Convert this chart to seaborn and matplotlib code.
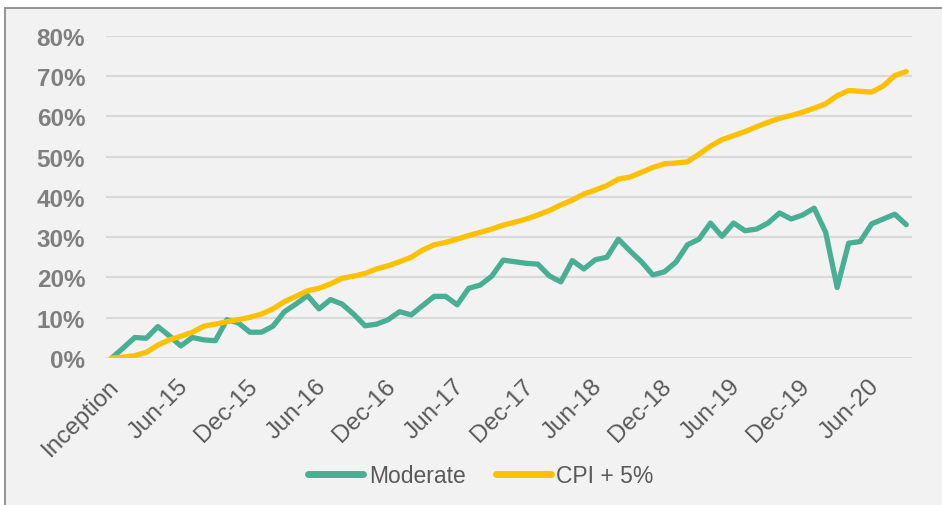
import numpy as np
import pandas as pd
import matplotlib
matplotlib.use("Agg")
import matplotlib.pyplot as plt
import matplotlib.transforms as mtransforms
from matplotlib.patches import Rectangle
from matplotlib.lines import Line2D
import seaborn as sns

# ---- data (cumulative return, %) monthly from inception (Dec-14) to Sep-20 ----
moderate = [0.0, 2.5, 5.1, 4.9, 7.8, 5.5, 3.0, 5.1, 4.5, 4.3,
            9.5, 8.7, 6.4, 6.4, 7.9, 11.5, 13.4, 15.5, 12.2, 14.5,
            13.4, 10.9, 8.0, 8.4, 9.5, 11.5, 10.7, 13.0, 15.3, 15.3,
            13.2, 17.3, 18.1, 20.3, 24.3, 23.9, 23.5, 23.3, 20.4, 18.9,
            24.2, 22.1, 24.4, 25.0, 29.5, 26.6, 23.9, 20.6, 21.4, 23.8,
            28.1, 29.5, 33.5, 30.2, 33.5, 31.6, 32.0, 33.5, 36.0, 34.5,
            35.5, 37.2, 31.2, 17.5, 28.5, 28.9, 33.3, 34.5, 35.7, 33.1]
cpi_plus5 = [0.0, 0.2, 0.6, 1.4, 3.2, 4.5, 5.4, 6.4, 7.9, 8.4,
             9.0, 9.5, 10.1, 10.9, 12.2, 14.0, 15.3, 16.7, 17.3, 18.4,
             19.8, 20.3, 21.0, 22.1, 22.9, 23.9, 25.0, 26.8, 28.1, 28.7,
             29.5, 30.4, 31.2, 32.0, 33.0, 33.7, 34.5, 35.5, 36.6, 38.0,
             39.2, 40.7, 41.7, 42.8, 44.4, 44.9, 46.1, 47.3, 48.2, 48.4,
             48.7, 50.6, 52.6, 54.2, 55.2, 56.2, 57.4, 58.5, 59.5, 60.2,
             61.0, 62.0, 63.1, 65.1, 66.4, 66.2, 66.0, 67.5, 70.1, 71.1]
tick_labels = ["Inception", "Jun-15", "Dec-15", "Jun-16", "Dec-16", "Jun-17",
               "Dec-17", "Jun-18", "Dec-18", "Jun-19", "Dec-19", "Jun-20"]
y_ticks = [0, 10, 20, 30, 40, 50, 60, 70, 80]
series_names = ["Moderate", "CPI + 5%"]

GREEN = "#49AF92"
GOLD = "#FFC000"

n = len(moderate)
months = np.arange(n)
df = pd.DataFrame({
    "month": np.concatenate([months, months]),
    "value": moderate + cpi_plus5,
    "series": [series_names[0]] * n + [series_names[1]] * n,
})

sns.set_theme(style="white")
plt.rcParams["font.family"] = ["Liberation Sans", "DejaVu Sans"]

W, H = 942, 506
fig = plt.figure(figsize=(W / 100, H / 100), dpi=100, facecolor="white")

# chart-area background with grey border (cropped on right and bottom)
fig.patches.append(Rectangle((5 / W, -0.02), 1.05, 1 - 9 / H + 0.02,
                             transform=fig.transFigure, facecolor="#F2F2F2",
                             edgecolor="#8C8C8C", linewidth=1.3, zorder=-5))

ax = fig.add_axes([106 / W, (H - 359) / H, (912 - 106) / W, (359 - 36.7) / H])
ax.set_zorder(2)
ax.set_facecolor("none")

sns.lineplot(data=df, x="month", y="value", hue="series",
             palette={series_names[0]: GREEN, series_names[1]: GOLD},
             hue_order=series_names, linewidth=3.8, ax=ax, legend=False,
             solid_capstyle="round", solid_joinstyle="round")
# gold line above green
for line, z in zip(ax.get_lines(), [3, 4]):
    line.set_zorder(z)

ax.set_xlim(-0.5, n - 0.5)
ax.set_ylim(0, 80)
ax.set_yticks(y_ticks)
ax.set_yticklabels([f"{v}%" for v in y_ticks], fontsize=17.5,
                   fontweight="bold", color="#7F7F7F")
ax.set_xticks(months[::6][:len(tick_labels)])
ax.set_xticklabels(tick_labels, fontsize=17.5, color="#595959",
                   rotation=45, ha="right", va="top", rotation_mode="anchor")
ax.tick_params(axis="both", length=0)
ax.tick_params(axis="y", pad=15)
ax.tick_params(axis="x", pad=12)
shift = mtransforms.ScaledTranslation(-4 / 100, 0, fig.dpi_scale_trans)
for lbl in ax.get_xticklabels():
    lbl.set_transform(lbl.get_transform() + shift)
ax.set_xlabel("")
ax.set_ylabel("")
ax.grid(axis="y", color="#D9D9D9", linewidth=1.5)
ax.set_axisbelow(True)
for s in ax.spines.values():
    s.set_visible(False)

handles = [Line2D([0], [0], color=GREEN, linewidth=5, solid_capstyle="round"),
           Line2D([0], [0], color=GOLD, linewidth=5, solid_capstyle="round")]
leg = fig.legend(handles, series_names, loc="center", ncol=2,
                 bbox_to_anchor=(481 / W, 1 - 477 / H), frameon=False,
                 fontsize=16.5, labelcolor="#595959", handlelength=2.4,
                 handletextpad=0.25, columnspacing=1.3)
leg.set_zorder(3)

fig.savefig("out.png", dpi=100, facecolor="white")
